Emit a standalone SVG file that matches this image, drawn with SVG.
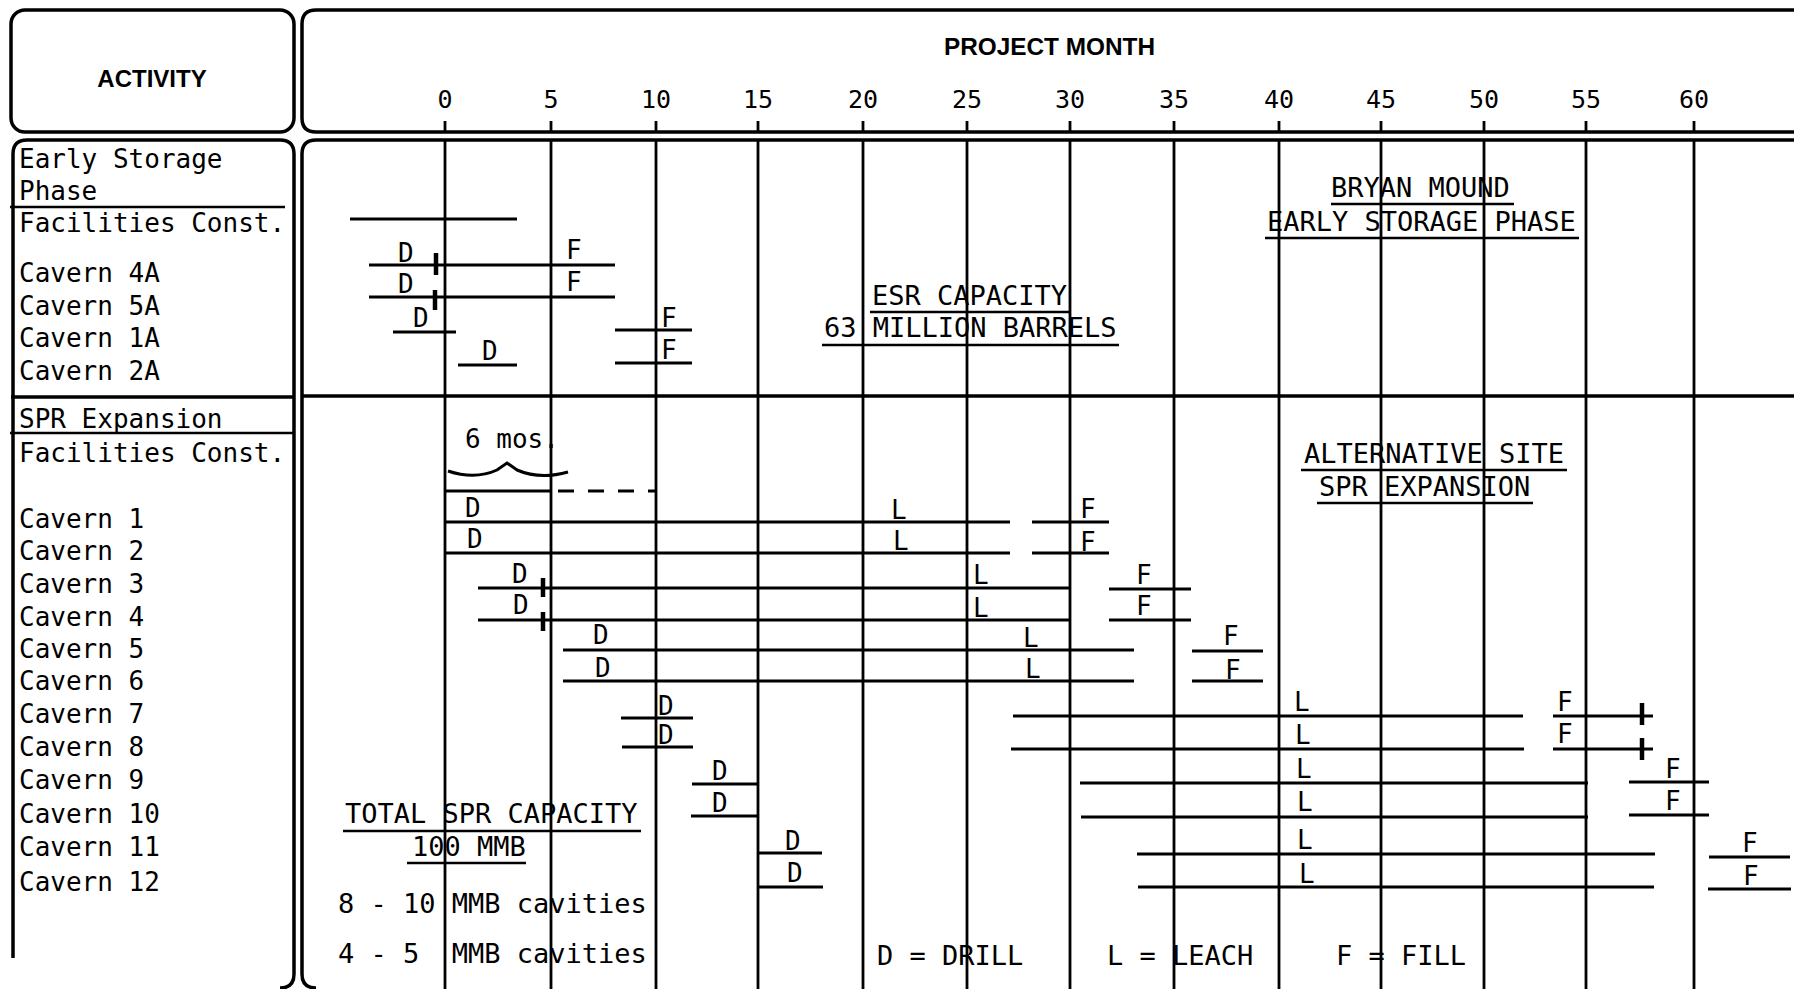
<svg xmlns="http://www.w3.org/2000/svg" width="1794" height="989" viewBox="0 0 1794 989">
<style>
.frame{fill:none;stroke:#000;stroke-width:3.5}
.grid{stroke:#000;stroke-width:2.8}
.bar{stroke:#000;stroke-width:3;fill:none}
.tick{stroke:#000;stroke-width:4.5}
.ul{stroke:#000;stroke-width:2.5}
.t{font-family:"DejaVu Sans Mono","Liberation Mono",monospace;font-size:26px;fill:#000}
.lbl{font-family:"DejaVu Sans Mono","Liberation Mono",monospace;font-size:27px;fill:#000}
.num{font-family:"DejaVu Sans Mono","Liberation Mono",monospace;font-size:25px;fill:#000;text-anchor:middle}
.hd{font-family:"Liberation Sans",Arial,sans-serif;font-weight:bold;font-size:24px;fill:#000}
</style>
<rect x="0" y="0" width="1794" height="989" fill="#fff"/>

<g id="frames">
  <rect class="frame" x="11" y="10" width="283" height="122" rx="14"/>
  <path class="frame" d="M1800,10 L316,10 Q302,10 302,24 L302,118 Q302,132 316,132 L1800,132"/>
  <path class="frame" d="M13,958 L13,154 Q13,140 27,140 L280,140 Q294,140 294,154 L294,974 Q294,988 280,988"/>
  <path class="frame" d="M1800,140 L316,140 Q302,140 302,154 L302,974 Q302,988 316,988"/>
  <line class="frame" x1="11" y1="397" x2="294" y2="397"/>
  <line class="frame" x1="302" y1="396" x2="1794" y2="396"/>
  <line class="ul" x1="10" y1="207" x2="285" y2="207"/>
  <line class="ul" x1="10" y1="433" x2="294" y2="433"/>
</g>

<g id="header">
  <text class="hd" x="152" y="87" text-anchor="middle" font-size="25">ACTIVITY</text>
  <text class="hd" x="944" y="55" textLength="211" lengthAdjust="spacingAndGlyphs">PROJECT MONTH</text>
  <g id="axis-numbers">
    <text class="num" x="445" y="108">0</text>
    <text class="num" x="551" y="108">5</text>
    <text class="num" x="656" y="108">10</text>
    <text class="num" x="758" y="108">15</text>
    <text class="num" x="863" y="108">20</text>
    <text class="num" x="967" y="108">25</text>
    <text class="num" x="1070" y="108">30</text>
    <text class="num" x="1174" y="108">35</text>
    <text class="num" x="1279" y="108">40</text>
    <text class="num" x="1381" y="108">45</text>
    <text class="num" x="1484" y="108">50</text>
    <text class="num" x="1586" y="108">55</text>
    <text class="num" x="1694" y="108">60</text>
  </g>
  <g id="axis-ticks" class="grid">
    <line x1="445" y1="121" x2="445" y2="132"/>
    <line x1="551" y1="121" x2="551" y2="132"/>
    <line x1="656" y1="121" x2="656" y2="132"/>
    <line x1="758" y1="121" x2="758" y2="132"/>
    <line x1="863" y1="121" x2="863" y2="132"/>
    <line x1="967" y1="121" x2="967" y2="132"/>
    <line x1="1070" y1="121" x2="1070" y2="132"/>
    <line x1="1174" y1="121" x2="1174" y2="132"/>
    <line x1="1279" y1="121" x2="1279" y2="132"/>
    <line x1="1381" y1="121" x2="1381" y2="132"/>
    <line x1="1484" y1="121" x2="1484" y2="132"/>
    <line x1="1586" y1="121" x2="1586" y2="132"/>
    <line x1="1694" y1="121" x2="1694" y2="132"/>
  </g>
</g>

<g id="grid" class="grid">
  <line x1="445" y1="140" x2="445" y2="989"/>
  <line x1="551" y1="140" x2="551" y2="989"/>
  <line x1="656" y1="140" x2="656" y2="989"/>
  <line x1="758" y1="140" x2="758" y2="989"/>
  <line x1="863" y1="140" x2="863" y2="989"/>
  <line x1="967" y1="140" x2="967" y2="989"/>
  <line x1="1070" y1="140" x2="1070" y2="989"/>
  <line x1="1174" y1="140" x2="1174" y2="989"/>
  <line x1="1279" y1="140" x2="1279" y2="989"/>
  <line x1="1381" y1="140" x2="1381" y2="989"/>
  <line x1="1484" y1="140" x2="1484" y2="989"/>
  <line x1="1586" y1="140" x2="1586" y2="989"/>
  <line x1="1694" y1="140" x2="1694" y2="989"/>
</g>

<g id="activity-labels" class="t">
  <text x="19" y="168">Early Storage</text>
  <text x="19" y="200">Phase</text>
  <text x="19" y="232">Facilities Const.</text>
  <text x="19" y="282">Cavern 4A</text>
  <text x="19" y="315">Cavern 5A</text>
  <text x="19" y="347">Cavern 1A</text>
  <text x="19" y="380">Cavern 2A</text>
  <text x="19" y="428">SPR Expansion</text>
  <text x="19" y="462">Facilities Const.</text>
  <text x="19" y="528">Cavern 1</text>
  <text x="19" y="560">Cavern 2</text>
  <text x="19" y="593">Cavern 3</text>
  <text x="19" y="626">Cavern 4</text>
  <text x="19" y="658">Cavern 5</text>
  <text x="19" y="690">Cavern 6</text>
  <text x="19" y="723">Cavern 7</text>
  <text x="19" y="756">Cavern 8</text>
  <text x="19" y="789">Cavern 9</text>
  <text x="19" y="823">Cavern 10</text>
  <text x="19" y="856">Cavern 11</text>
  <text x="19" y="891">Cavern 12</text>
</g>

<g id="connectors">
  <g id="row-esp-facilities"><line class="bar" x1="350" y1="219" x2="517" y2="219"/></g>
  <g id="row-cavern-4A">
    <line class="bar" x1="369" y1="265" x2="615" y2="265"/>
    <line class="tick" x1="436" y1="253" x2="436" y2="275"/>
    <text class="t" x="398" y="262">D</text><text class="t" x="566" y="259">F</text>
  </g>
  <g id="row-cavern-5A">
    <line class="bar" x1="369" y1="297" x2="615" y2="297"/>
    <line class="tick" x1="435" y1="290" x2="435" y2="310"/>
    <text class="t" x="398" y="293">D</text><text class="t" x="566" y="291">F</text>
  </g>
  <g id="row-cavern-1A">
    <line class="bar" x1="393" y1="332" x2="456" y2="332"/>
    <line class="bar" x1="615" y1="330" x2="692" y2="330"/>
    <text class="t" x="413" y="327">D</text><text class="t" x="661" y="327">F</text>
  </g>
  <g id="row-cavern-2A">
    <line class="bar" x1="458" y1="365" x2="517" y2="365"/>
    <line class="bar" x1="615" y1="363" x2="692" y2="363"/>
    <text class="t" x="482" y="360">D</text><text class="t" x="661" y="359">F</text>
  </g>

  <g id="row-spr-facilities">
    <line class="bar" x1="445" y1="491" x2="552" y2="491"/>
    <line class="bar" x1="558" y1="491" x2="655" y2="491" stroke-dasharray="16 14"/>
    <path class="bar" d="M448,471 Q475,480 497,470 L507,463 L517,470 Q540,480 568,472" stroke-width="3.5"/>
    <text class="t" x="465" y="448">6 mos.</text>
  </g>
  <g id="row-cavern-1">
    <line class="bar" x1="445" y1="522" x2="1010" y2="522"/>
    <line class="bar" x1="1032" y1="522" x2="1109" y2="522"/>
    <text class="t" x="465" y="517">D</text><text class="t" x="891" y="519">L</text><text class="t" x="1080" y="518">F</text>
  </g>
  <g id="row-cavern-2">
    <line class="bar" x1="445" y1="553" x2="1010" y2="553"/>
    <line class="bar" x1="1032" y1="553" x2="1109" y2="553"/>
    <text class="t" x="467" y="548">D</text><text class="t" x="893" y="550">L</text><text class="t" x="1080" y="551">F</text>
  </g>
  <g id="row-cavern-3">
    <line class="bar" x1="478" y1="588" x2="1070" y2="588"/>
    <line class="tick" x1="543" y1="578" x2="543" y2="597"/>
    <line class="bar" x1="1109" y1="589" x2="1191" y2="589"/>
    <text class="t" x="512" y="583">D</text><text class="t" x="973" y="584">L</text><text class="t" x="1136" y="584">F</text>
  </g>
  <g id="row-cavern-4">
    <line class="bar" x1="478" y1="620" x2="1070" y2="620"/>
    <line class="tick" x1="543" y1="612" x2="543" y2="631"/>
    <line class="bar" x1="1109" y1="620" x2="1191" y2="620"/>
    <text class="t" x="513" y="614">D</text><text class="t" x="973" y="617">L</text><text class="t" x="1136" y="615">F</text>
  </g>
  <g id="row-cavern-5">
    <line class="bar" x1="563" y1="650" x2="1134" y2="650"/>
    <line class="bar" x1="1192" y1="651" x2="1263" y2="651"/>
    <text class="t" x="593" y="644">D</text><text class="t" x="1023" y="647">L</text><text class="t" x="1223" y="645">F</text>
  </g>
  <g id="row-cavern-6">
    <line class="bar" x1="563" y1="681" x2="1134" y2="681"/>
    <line class="bar" x1="1192" y1="681" x2="1263" y2="681"/>
    <text class="t" x="595" y="677">D</text><text class="t" x="1025" y="678">L</text><text class="t" x="1225" y="679">F</text>
  </g>
  <g id="row-cavern-7">
    <line class="bar" x1="621" y1="718" x2="693" y2="718"/>
    <line class="bar" x1="1013" y1="716" x2="1523" y2="716"/>
    <line class="bar" x1="1553" y1="716" x2="1653" y2="716"/>
    <line class="tick" x1="1642" y1="703" x2="1642" y2="725"/>
    <text class="t" x="658" y="715">D</text><text class="t" x="1294" y="711">L</text><text class="t" x="1557" y="711">F</text>
  </g>
  <g id="row-cavern-8">
    <line class="bar" x1="622" y1="747" x2="693" y2="747"/>
    <line class="bar" x1="1011" y1="749" x2="1524" y2="749"/>
    <line class="bar" x1="1553" y1="749" x2="1653" y2="749"/>
    <line class="tick" x1="1642" y1="738" x2="1642" y2="760"/>
    <text class="t" x="658" y="744">D</text><text class="t" x="1295" y="744">L</text><text class="t" x="1557" y="743">F</text>
  </g>
  <g id="row-cavern-9">
    <line class="bar" x1="692" y1="784" x2="757" y2="784"/>
    <line class="bar" x1="1080" y1="783" x2="1588" y2="783"/>
    <line class="bar" x1="1629" y1="782" x2="1709" y2="782"/>
    <text class="t" x="712" y="780">D</text><text class="t" x="1296" y="778">L</text><text class="t" x="1665" y="778">F</text>
  </g>
  <g id="row-cavern-10">
    <line class="bar" x1="691" y1="816" x2="757" y2="816"/>
    <line class="bar" x1="1081" y1="817" x2="1588" y2="817"/>
    <line class="bar" x1="1629" y1="815" x2="1709" y2="815"/>
    <text class="t" x="712" y="812">D</text><text class="t" x="1297" y="811">L</text><text class="t" x="1665" y="810">F</text>
  </g>
  <g id="row-cavern-11">
    <line class="bar" x1="758" y1="853" x2="822" y2="853"/>
    <line class="bar" x1="1137" y1="854" x2="1655" y2="854"/>
    <line class="bar" x1="1709" y1="857" x2="1790" y2="857"/>
    <text class="t" x="785" y="850">D</text><text class="t" x="1297" y="849">L</text><text class="t" x="1742" y="852">F</text>
  </g>
  <g id="row-cavern-12">
    <line class="bar" x1="758" y1="887" x2="823" y2="887"/>
    <line class="bar" x1="1138" y1="887" x2="1654" y2="887"/>
    <line class="bar" x1="1708" y1="889" x2="1791" y2="889"/>
    <text class="t" x="787" y="882">D</text><text class="t" x="1299" y="883">L</text><text class="t" x="1743" y="885">F</text>
  </g>
</g>

<g id="note-esr">
  <text class="lbl" x="872" y="305">ESR CAPACITY</text>
  <line class="ul" x1="870" y1="312" x2="1069" y2="312"/>
  <text class="lbl" x="824" y="337">63 MILLION BARRELS</text>
  <line class="ul" x1="822" y1="345" x2="1119" y2="345"/>
</g>
<g id="note-bryan">
  <text class="lbl" x="1331" y="197">BRYAN MOUND</text>
  <line class="ul" x1="1331" y1="204" x2="1514" y2="204"/>
  <text class="lbl" x="1267" y="231">EARLY STORAGE PHASE</text>
  <line class="ul" x1="1265" y1="238" x2="1579" y2="238"/>
</g>
<g id="note-alt">
  <text class="lbl" x="1304" y="463">ALTERNATIVE SITE</text>
  <line class="ul" x1="1301" y1="470" x2="1567" y2="470"/>
  <text class="lbl" x="1319" y="496">SPR EXPANSION</text>
  <line class="ul" x1="1317" y1="503" x2="1533" y2="503"/>
</g>
<g id="note-total">
  <text class="lbl" x="345" y="823">TOTAL SPR CAPACITY</text>
  <line class="ul" x1="343" y1="831" x2="641" y2="831"/>
  <text class="lbl" x="412" y="856">100 MMB</text>
  <line class="ul" x1="407" y1="863" x2="526" y2="863"/>
  <text class="lbl" x="338" y="913">8 - 10 MMB cavities</text>
  <text class="lbl" x="338" y="963" xml:space="preserve">4 - 5  MMB cavities</text>
</g>
<g id="legend">
  <text class="lbl" x="877" y="965">D = DRILL</text>
  <text class="lbl" x="1107" y="965">L = LEACH</text>
  <text class="lbl" x="1336" y="965">F = FILL</text>
</g>
</svg>
